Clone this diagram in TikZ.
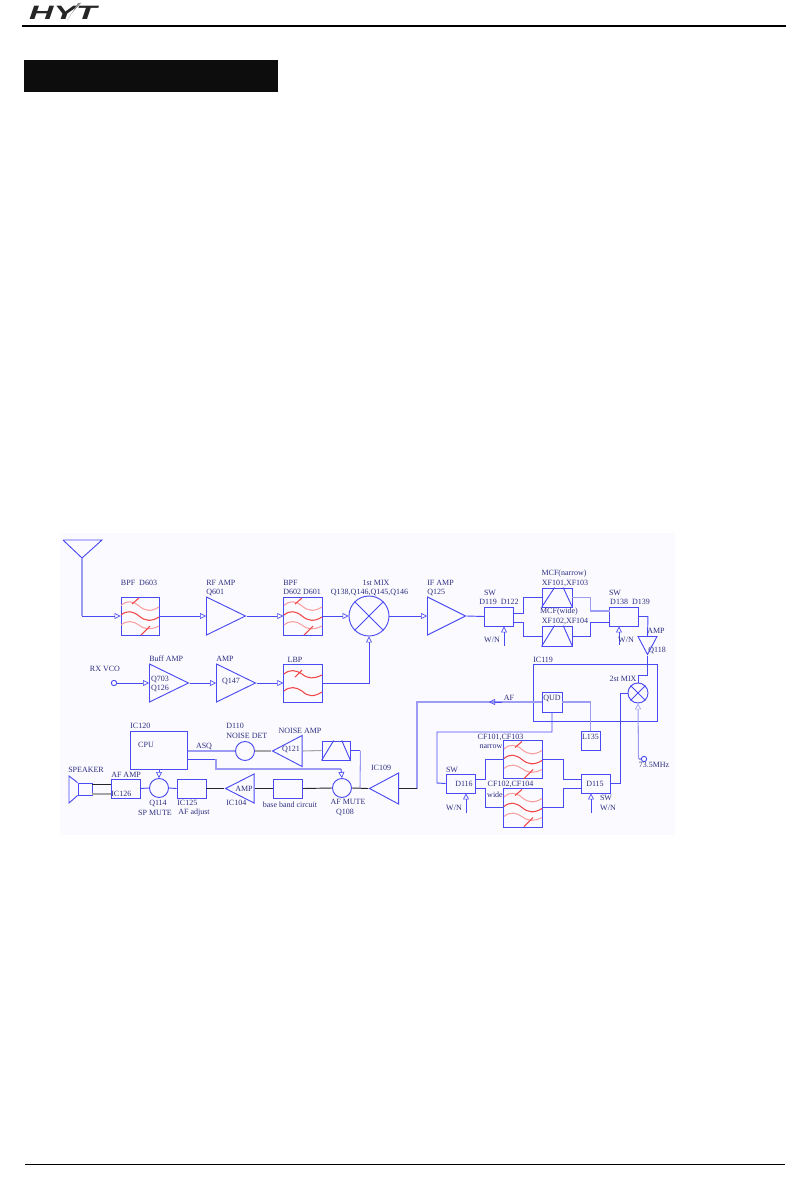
\documentclass[tikz,border=0pt]{standalone}
\usepackage{fontspec}
\setmainfont{Liberation Serif}
\newfontfamily\logofont{Liberation Sans}
\usetikzlibrary{arrows.meta,shapes.geometric,calc}
\definecolor{wireblue}{HTML}{4A4AF2}
\definecolor{lightblue}{HTML}{9C9CF4}
\definecolor{labelblue}{HTML}{2E2E80}
\definecolor{redline}{HTML}{F04848}
\definecolor{pinkline}{HTML}{F8A0A0}
\tikzset{
 wire/.style={draw=wireblue,line width=0.7pt},
 thinwire/.style={draw=lightblue,line width=0.8pt},
 blackwire/.style={draw=black!85,line width=0.7pt},
 greywire/.style={draw=black!35,line width=0.8pt},
 inarr/.style={-{Triangle[open,length=4.5pt,width=4.5pt,line width=0.5pt]}},
 block/.style 2 args={draw=wireblue,line width=0.7pt,rectangle,inner sep=0pt,minimum width=#1*0.75pt,minimum height=#2*0.75pt},
 mixer/.style={draw=wireblue,line width=0.7pt,circle,inner sep=0pt,minimum size=#1*0.75pt},
 ampl/.style n args={3}{draw=wireblue,line width=0.7pt,isosceles triangle,isosceles triangle stretches,inner sep=0pt,shape border rotate=#1,minimum width=#2*0.75pt,minimum height=#3*0.75pt,anchor=lower side},
 lab/.style={text=labelblue,inner sep=0pt,font=\fontsize{6}{7}\selectfont},
}
\newcommand{\filtercurves}[2]{%
 \begin{scope}[shift={(#1,#2)},line width=0.8pt]
  \draw[pinkline] (0,8.5) .. controls (6,3) and (12,4) .. (18,9) .. controls (24,14) and (30,15) .. (38,10);
  \draw[redline] (0,18) .. controls (6,13) and (12,14) .. (18,19) .. controls (24,24) and (30,25) .. (38,20);
  \draw[pinkline] (0,28) .. controls (6,23) and (12,24) .. (18,28) .. controls (24,33) and (30,33) .. (38,29);
  \draw[redline] (11,7) -- (18,1);
  \draw[redline] (20,38) -- (29,29);
 \end{scope}}
\newcommand{\trapezoid}[1]{%
 \draw[wire] (#1.south west) -- ($(#1.north west)!0.42!(#1.north east)$);
 \draw[wire] (#1.south east) -- ($(#1.north west)!0.7!(#1.north east)$);}
\newcommand{\crossed}[1]{%
 \draw[wire] (#1.45) -- (#1.225); \draw[wire] (#1.135) -- (#1.315);}
\begin{document}
\begin{tikzpicture}[x=0.75pt,y=-0.75pt]
\useasboundingbox (0,0) rectangle (808,1198);
\fill[white] (0,0) rectangle (808,1198);
\fill[blue!1.5] (60,533) rectangle (675,835);
% header
\node[inner sep=0pt,text=black!85] (logo) at (63,13) {\scalebox{1.75}[1]{\logofont\bfseries\itshape\fontsize{14.5}{15}\selectfont HYT}};
\fill[black!45] (67,21) -- (78,3) -- (81,3) -- (71,14) -- cycle;
\draw[black,line width=0.9pt] (22,26) -- (786,26);
\fill[black!95] (24,60) rectangle (278,92);
\draw[black,line width=0.6pt] (25,1164) -- (785,1164);
% first row
\coordinate (anttop) at (82,558);
\draw[wire] (63,540) -- (102,540) -- (anttop) -- (63,540);
\node[block={38}{38}] (bpfa) at (140,616) {};
\node[ampl={0}{38}{39}] (rfamp) at (206,616) {};
\node[block={38.5}{38}] (bpfb) at (303,616) {};
\node[mixer=40] (mixa) at (369,616) {};
\node[ampl={0}{38}{38}] (ifamp) at (427,616) {};
\node[block={29}{19}] (swa) at (499,616.5) {};
\node[block={30}{19}] (xfa) at (557,597.5) {};
\node[block={30}{20}] (xfb) at (557,636) {};
\node[block={29}{19}] (swb) at (624,616.5) {};
\node[ampl={-90}{19}{18}] (ampq) at (647.5,636) {};
\filtercurves{121}{597}
\filtercurves{284}{597}
\crossed{mixa}
\trapezoid{xfa}
\trapezoid{xfb}
\draw[thinwire] (anttop) -- ++(0,58) coordinate (antc);
\draw[wire,inarr] (antc) -- (bpfa.west);
\draw[wire,inarr] (bpfa.east) -- (rfamp.lower side);
\draw[wire,inarr] (rfamp.apex) -- (bpfb.west);
\draw[wire,inarr] (bpfb.east) -- (mixa.west);
\draw[wire,inarr] (mixa.east) -- (ifamp.lower side);
\draw[wire] (ifamp.apex) -- (swa.west);
\coordinate (swaup) at (513.5,613);
\coordinate (swadn) at (513.5,622);
\coordinate (swbup) at (609.5,611);
\coordinate (swbdn) at (609.5,622);
\draw[wire] (swaup) -- ++(9.5,0) |- (xfa.west);
\draw[wire] (swadn) -- ++(9.5,0) |- (xfb.west);
\draw[thinwire] (xfa.east) -- ++(18,0) |- (swbup);
\draw[wire] (xfb.east) -- ++(18,0) |- (swbdn);
\coordinate (wna) at (504,646);
\coordinate (wnb) at (619,645);
\draw[wire,inarr] (wna) -- (wna |- swa.south);
\draw[wire,inarr] (wnb) -- (wnb |- swb.south);
\draw[wire] (swb.east) -- ++(9,0) -- (ampq.lower side);
% second row
\node[circle,draw=wireblue,line width=0.7pt,inner sep=0pt,minimum size=4pt] (vco) at (114,683) {};
\node[ampl={0}{38}{39}] (buf) at (149,683) {};
\node[ampl={0}{38}{39}] (ampb) at (216,683) {};
\node[block={38.5}{38}] (lbp) at (303,683) {};
\begin{scope}[shift={(284,664)},line width=0.8pt]
 \draw[redline] (0,10) .. controls (6,5) and (12,6) .. (18,10) .. controls (24,15) and (30,15) .. (38,11);
 \draw[redline] (11,13) -- (18,6);
 \draw[redline] (0,27) .. controls (6,22) and (12,23) .. (18,27) .. controls (24,33) and (30,33) .. (38,28);
\end{scope}
\draw[wire,inarr] (vco) -- (buf.lower side);
\draw[wire,inarr] (buf.apex) -- (ampb.lower side);
\draw[wire,inarr] (ampb.apex) -- (lbp.west);
\draw[wire,inarr] (lbp.east) -| (mixa.south);
% IC119 block
\node[block={124}{57}] (ic) at (595,692.5) {};
\node[block={20}{20}] (qud) at (552,702) {};
\node[block={19}{19}] (lic) at (590.5,740.5) {};
\node[mixer=20] (mixb) at (638,693) {};
\crossed{mixb}
\node[circle,draw=wireblue,line width=0.7pt,inner sep=0pt,minimum size=4pt] (osc) at (644,759) {};
\coordinate (oscl) at (638.5,759);
\draw[wire] (ampq.apex) -- ++(0,20) -| (mixb.north);
\draw[thinwire,inarr] (oscl) -- (mixb.south);
\draw[thinwire] (oscl) -- (osc.west);
\draw[thinwire] (qud.east) -| (lic.north);
% af line
\node[ampl={180}{31}{29}] (icx) at (399,788.5) {};
\coordinate (afturn) at (417,702);
\coordinate (afmid) at (489,702);
\draw[thinwire] (qud.west) -- (afmid);
\draw[wire,inarr] (502,702) -- (afmid);
\draw[thinwire] (afmid) -- (afturn) -- (afturn |- icx.lower side);
\draw[blackwire] (icx.lower side) -- (afturn |- icx.lower side);
% IF second stage
\node[block={29}{19}] (swc) at (460.5,783.5) {};
\node[block={39}{38}] (cfa) at (523,759.5) {};
\node[block={39}{39}] (cfb) at (523,807.5) {};
\node[block={29}{19}] (swd) at (596,783.5) {};
\filtercurves{504}{740.5}
\filtercurves{504}{788.5}
\draw[wire] (qud.south) -- ++(0,19.5) -| (437,783) -- (swc.west);
\coordinate (swcup) at (475,779);
\coordinate (swcdn) at (475,788);
\coordinate (swdup) at (581.5,779);
\coordinate (swddn) at (581.5,788);
\draw[wire] (swcup) -- ++(10,0) |- (cfa.west);
\draw[wire] (swcdn) -- ++(10,0) |- (cfb.west);
\draw[wire] (cfa.east) -- ++(20,0) |- (swdup);
\draw[wire] (cfb.east) -- ++(20,0) |- (swddn);
\draw[wire] (swd.east) -- ++(9,0) |- (mixb.west);
\coordinate (wnc) at (466,813);
\coordinate (wnd) at (591,813);
\draw[wire,inarr] (wnc) -- (wnc |- swc.south);
\draw[wire,inarr] (wnd) -- (wnd |- swd.south);
% audio row
\node[block={57}{38}] (cpu) at (159,750) {};
\node[mixer=19] (det) at (245,751) {};
\node[ampl={180}{31}{29.5}] (namp) at (302.5,751) {};
\node[block={28}{19}] (nfil) at (336,750.5) {};
\trapezoid{nfil}
\node[mixer=19] (qa) at (342,788) {};
\node[mixer=19] (qb) at (159,788) {};
\node[block={29}{19}] (icr) at (191.5,788.5) {};
\node[ampl={180}{29}{28.5}] (icb) at (254.5,788.5) {};
\node[block={29}{19}] (bbc) at (288,788.5) {};
\node[block={29}{19}] (icc) at (125.5,788.5) {};
\node[block={14}{12}] (spk) at (85,789) {};
\draw[wire] (spk.north west) -- (69,776) -- (69,803) -- (spk.south west);
\draw[thinwire] (cpu.east |- det) -- (det.west);
\draw[greywire] (det.east) -- (namp.apex);
\draw[greywire] (namp.lower side) -- (nfil.west);
\coordinate (noisejoin) at (360,788);
\draw[wire] (nfil.east) -- ++(10,0) coordinate (nfe);
\draw[thinwire] (nfe) -- (noisejoin);
\coordinate (cpuo) at (187.5,759);
\draw[wire] (cpuo) -- ++(28.5,0) coordinate (cpuob);
\draw[thinwire] (cpuob) |- (341,769) coordinate (cpuoc);
\draw[wire,inarr] (cpuoc) -- (qa.north);
\draw[wire,inarr] (cpu.south) -- (qb.north);
\draw[blackwire] (qa.east) -- (icx.apex);
\draw[wire] (icc.east) -- (qb.west);
\draw[wire] (qb.east) -- (icr.west);
\draw[blackwire] (icr.east) -- (icb.apex);
\draw[blackwire] (icb.lower side) -- (bbc.west);
\draw[blackwire] (bbc.east) -- (qa.west);
\coordinate (spa) at (92,784);
\coordinate (spb) at (92,794);
\draw[blackwire] (spa) -- (spa -| icc.west);
\draw[greywire] (spb) -- (spb -| icc.west);
% labels
\node[lab] (t1) at (139,583) {BPF\ \ D603};
\node[lab,anchor=west] (t2) at (206,583) {RF AMP};
\node[lab,anchor=west] (t3) at (206,592) {Q601};
\node[lab,anchor=west] (t4) at (283,583) {BPF};
\node[lab,anchor=west] (t5) at (283,592) {D602 D601};
\node[lab] (t6) at (376,583) {1st MIX};
\node[lab] (t7) at (369.5,592) {Q138,Q146,Q145,Q146};
\node[lab,anchor=west] (t8) at (427,583) {IF AMP};
\node[lab,anchor=west] (t9) at (427,592) {Q125};
\node[lab] (t10) at (490,592.5) {SW};
\node[lab] (t11) at (499,602) {D119\ \ D122};
\node[lab] (t12) at (492,640) {W/N};
\node[lab] (t13) at (564,573.5) {MCF(narrow)};
\node[lab] (t14) at (565,583) {XF101,XF103};
\node[lab] (t15) at (559,612) {MCF(wide)};
\node[lab] (t16) at (565,621.5) {XF102,XF104};
\node[lab] (t17) at (615,592.5) {SW};
\node[lab] (t18) at (630,602) {D138\ \ D139};
\node[lab] (t19) at (626,640) {W/N};
\node[lab] (t20) at (656,631) {AMP};
\node[lab] (t21) at (657,650) {Q118};
\node[lab] (t22) at (105,669) {RX VCO};
\node[lab,anchor=west] (t23) at (149,659) {Buff AMP};
\node[lab] (t24) at (160,679.5) {Q703};
\node[lab] (t25) at (160,688.5) {Q126};
\node[lab,anchor=west] (t26) at (216,659) {AMP};
\node[lab] (t27) at (231,681) {Q147};
\node[lab] (t28) at (295,659.5) {LBP};
\node[lab,anchor=west] (t29) at (533,659.5) {IC119};
\node[lab] (t30) at (623,679) {2st MIX};
\node[lab] (t31) at (552,698) {QUD};
\node[lab] (t32) at (509,698) {AF};
\node[lab] (t33) at (590.5,737) {L135};
\node[lab] (t34) at (654,765) {73.5MHz};
\node[lab] (t35) at (500.5,737) {CF101,CF103};
\node[lab] (t36) at (491,747) {narrow};
\node[lab] (t37) at (510.5,784) {CF102,CF104};
\node[lab] (t38) at (495,795) {wide};
\node[lab] (t39) at (452,769.5) {SW};
\node[lab] (t40) at (464,784) {D116};
\node[lab] (t41) at (454,808) {W/N};
\node[lab] (t42) at (595,784) {D115};
\node[lab] (t43) at (606,798) {SW};
\node[lab] (t44) at (608,808) {W/N};
\node[lab,anchor=west] (t45) at (130,726) {IC120};
\node[lab] (t46) at (146,745) {CPU};
\node[lab] (t47) at (204,746) {ASQ};
\node[lab,anchor=west] (t48) at (226,726) {D110};
\node[lab,anchor=west] (t49) at (226,736) {NOISE DET};
\node[lab] (t50) at (300,731) {NOISE AMP};
\node[lab] (t51) at (291,749.5) {Q121};
\node[lab] (t52) at (381,768) {IC109};
\node[lab,anchor=west] (t53) at (68,770) {SPEAKER};
\node[lab,anchor=west] (t54) at (111,775) {AF AMP};
\node[lab,anchor=west] (t55) at (111,794) {IC126};
\node[lab] (t56) at (158,803) {Q114};
\node[lab] (t57) at (155,813) {SP MUTE};
\node[lab,anchor=west] (t58) at (177,803) {IC125};
\node[lab] (t59) at (194,813) {AF adjust};
\node[lab] (t60) at (244,789) {AMP};
\node[lab,anchor=west] (t61) at (226,803) {IC104};
\node[lab] (t62) at (290,805) {base band circuit};
\node[lab] (t63) at (348,802) {AF MUTE};
\node[lab] (t64) at (345,812) {Q108};
\end{tikzpicture}
\end{document}
